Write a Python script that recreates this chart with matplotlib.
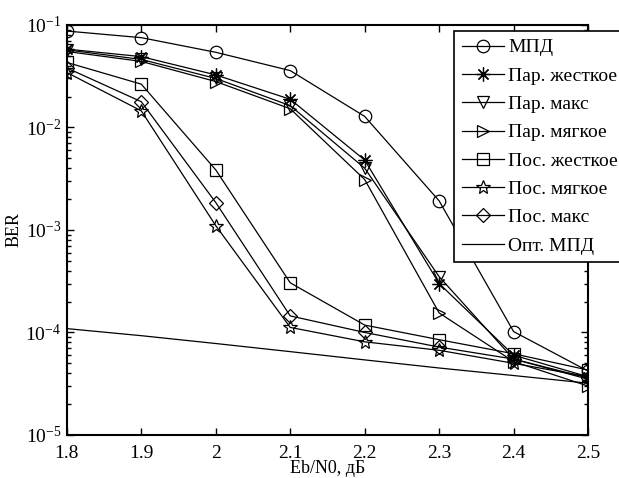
import matplotlib
matplotlib.use("Agg")
import matplotlib.pyplot as plt
from matplotlib.ticker import LogLocator, FuncFormatter, NullFormatter

plt.rcParams['font.family'] = ['Liberation Serif', 'DejaVu Serif']
plt.rcParams['mathtext.fontset'] = 'custom'
plt.rcParams['mathtext.rm'] = 'Liberation Serif'

ebn0 = [1.8, 1.9, 2.0, 2.1, 2.2, 2.3, 2.4, 2.5]

mpd = [0.087, 0.075, 0.054, 0.0358, 0.0128, 0.00192, 1.02e-4, 4.2e-5]
par_hard = [0.058, 0.049, 0.0325, 0.0188, 0.0048, 3.0e-4, 6.0e-5, 3.7e-5]
par_max = [0.057, 0.046, 0.030, 0.0163, 0.0040, 3.5e-4, 5.5e-5, 3.5e-5]
par_soft = [0.055, 0.044, 0.028, 0.0152, 0.0031, 1.55e-4, 5.2e-5, 3.0e-5]
pos_hard = [0.043, 0.0264, 0.00385, 3.05e-4, 1.18e-4, 8.5e-5, 6.2e-5, 4.3e-5]
pos_soft = [0.0343, 0.0145, 1.1e-3, 1.12e-4, 8.1e-5, 6.7e-5, 5.0e-5, 3.7e-5]
pos_max = [0.038, 0.0178, 1.85e-3, 1.45e-4, 1.0e-4, 7.2e-5, 5.5e-5, 3.6e-5]
opt_mpd = [1.09e-4, 9.3e-5, 7.8e-5, 6.5e-5, 5.4e-5, 4.5e-5, 3.8e-5, 3.2e-5]

labels = ['МПД', 'Пар. жесткое', 'Пар. макс', 'Пар. мягкое',
          'Пос. жесткое', 'Пос. мягкое', 'Пос. макс', 'Опт. МПД']
series = [mpd, par_hard, par_max, par_soft, pos_hard, pos_soft, pos_max, opt_mpd]
markers = ['o', (8, 2, 0), 'v', '>', 's', '*', 'D', None]
msizes = [9, 10, 9, 9, 8, 10, 7, 0]

fig = plt.figure(figsize=(6.19, 4.78), dpi=100)
ax = fig.add_axes([0.108, 0.090, 0.842, 0.858])

for y, lab, m, ms in zip(series, labels, markers, msizes):
    if m is None:
        ax.plot(ebn0, y, color='black', lw=0.9, label=lab)
    else:
        ax.plot(ebn0, y, color='black', lw=0.9, marker=m, markersize=ms,
                markerfacecolor='none', markeredgecolor='black',
                markeredgewidth=0.9, label=lab)

ax.set_yscale('log')
ax.set_ylim(1e-5, 1e-1)
ax.set_xlim(1.8, 2.5)
ax.set_xticks(ebn0)
ax.set_xticklabels(['1.8', '1.9', '2', '2.1', '2.2', '2.3', '2.4', '2.5'])
ax.yaxis.set_major_locator(LogLocator(base=10, numticks=10))
ax.yaxis.set_minor_locator(LogLocator(base=10, subs=range(2, 10), numticks=20))
ax.yaxis.set_minor_formatter(NullFormatter())

def fmt(v, pos):
    import math
    e = int(round(math.log10(v)))
    return r'$\mathregular{10^{%d}}$' % e
ax.yaxis.set_major_formatter(FuncFormatter(fmt))

ax.tick_params(which='both', direction='in', top=True, right=True, width=1)
ax.tick_params(axis='x', labelsize=14, pad=7)
ax.tick_params(axis='y', labelsize=14, pad=4)
ax.tick_params(which='major', length=5)
ax.tick_params(which='minor', length=3)
for s in ax.spines.values():
    s.set_linewidth(1.5)

ax.set_xlabel('Eb/N0, дБ', fontsize=13, labelpad=-1)
ax.set_ylabel('BER', fontsize=13, labelpad=2)

leg = fig.legend(loc='upper left', bbox_to_anchor=(0.733, 0.935), fontsize=14,
                 frameon=True, fancybox=False, edgecolor='black', framealpha=1,
                 handlelength=2.2, handletextpad=0.2, labelspacing=0.55,
                 borderpad=0.4, borderaxespad=0)
leg.get_frame().set_linewidth(1.2)

fig.savefig('out.png', dpi=100)
